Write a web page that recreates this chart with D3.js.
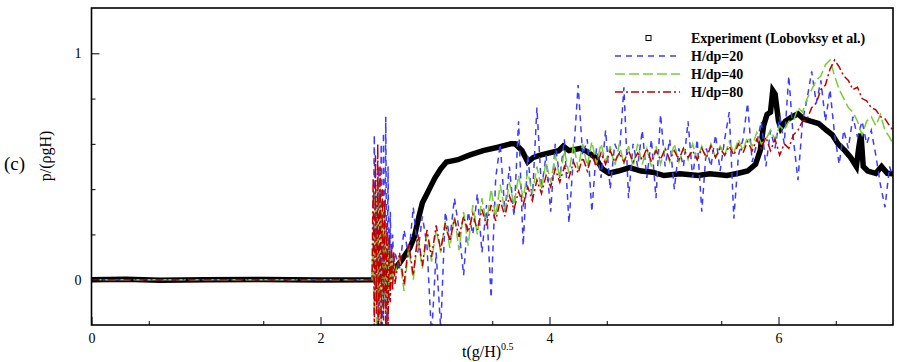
<!DOCTYPE html>
<html><head><meta charset="utf-8">
<script src="https://cdn.jsdelivr.net/npm/d3@7/dist/d3.min.js"></script>
<style>
html,body{margin:0;padding:0;background:#fff;}
svg text{font-family:"Liberation Serif","Times New Roman",serif;}
</style></head>
<body>
<svg id="c" width="897" height="362"></svg>
<script>
// ---------- data ----------
const xTicks = [0, 2, 4, 6];
const yTicks = [0, 1];
const seriesNames = ["Experiment (Lobovksy et al.)", "H/dp=20", "H/dp=40", "H/dp=80"];

// experiment (Lobovsky et al.)
const tExp = [0,0.3,0.6,1.0,1.5,2.0,2.45,2.6,2.7,2.78,2.82,2.86,2.89,2.93,2.96,3.0,3.05,3.1,3.15,3.2,3.3,3.42,3.55,3.66,3.7,3.76,3.81,3.86,3.92,4.0,4.08,4.12,4.17,4.27,4.33,4.4,4.46,4.52,4.6,4.7,4.8,4.9,5.0,5.14,5.3,5.4,5.55,5.65,5.73,5.8,5.84,5.87,5.9,5.93,5.95,5.97,6.0,6.02,6.06,6.12,6.17,6.22,6.28,6.35,6.42,6.47,6.52,6.58,6.63,6.68,6.7,6.72,6.74,6.78,6.85,6.9,6.95,7.0];
const pExp = [0.0,0.002,-0.002,0.0,0.001,-0.001,0.0,0.02,0.08,0.14,0.19,0.28,0.34,0.38,0.41,0.45,0.49,0.52,0.525,0.53,0.55,0.57,0.585,0.60,0.60,0.57,0.52,0.54,0.55,0.56,0.57,0.59,0.57,0.58,0.565,0.54,0.49,0.47,0.48,0.495,0.48,0.475,0.46,0.468,0.46,0.468,0.46,0.47,0.48,0.51,0.57,0.68,0.73,0.74,0.835,0.82,0.70,0.67,0.70,0.72,0.733,0.71,0.70,0.69,0.66,0.64,0.60,0.57,0.54,0.50,0.58,0.645,0.50,0.48,0.47,0.50,0.47,0.468];

// simulations, common time grid
const tSim = [
 0,2.45,
 2.46,2.47,2.48,2.49,2.50,2.51,2.52,2.53,2.54,2.55,
 2.56,2.57,2.58,2.59,2.60,2.61,2.62,2.63,2.64,2.65,
 2.69,2.73,2.77,2.81,2.85,2.89,2.93,2.97,3.01,3.05,
 3.09,3.13,3.17,3.21,3.25,3.29,3.33,3.37,3.41,3.45,
 3.49,3.53,3.57,3.61,3.65,3.69,3.73,3.77,3.81,3.85,
 3.89,3.93,3.97,4.01,4.05,4.09,4.13,4.17,4.21,4.25,
 4.29,4.33,4.37,4.41,4.45,4.49,4.53,4.57,4.61,4.65,
 4.69,4.73,4.77,4.81,4.85,4.89,4.93,4.97,5.01,5.05,
 5.09,5.13,5.17,5.21,5.25,5.29,5.33,5.37,5.41,5.45,
 5.49,5.53,5.57,5.61,5.65,5.69,5.73,5.77,5.81,5.85,
 5.89,5.93,5.97,6.01,6.05,6.09,6.13,6.17,6.21,6.25,
 6.29,6.33,6.37,6.41,6.45,6.49,6.53,6.57,6.61,6.65,
 6.69,6.73,6.77,6.81,6.85,6.89,6.93,6.97,7.00
];
const pDp20 = [
 0,0,
 0.10,0.64,-0.10,0.30,-0.25,0.50,-0.15,0.60,-0.25,0.65,
 -0.10,0.72,-0.25,0.50,-0.10,0.30,0.00,0.20,0.05,0.12,
 0.05,0.22,0.10,0.32,0.12,0.28,0.15,-0.25,0.12,-0.22,
 0.30,0.18,0.36,0.22,0.02,0.30,0.20,0.38,0.12,0.33,
 -0.08,0.45,0.60,0.30,0.50,0.28,0.70,0.15,0.55,0.35,
 0.76,0.40,0.55,0.30,0.60,0.45,0.62,0.25,0.55,0.86,
 0.55,0.62,0.30,0.58,0.45,0.66,0.40,0.60,0.55,0.85,
 0.36,0.60,0.50,0.66,0.45,0.62,0.36,0.73,0.50,0.62,
 0.40,0.58,0.50,0.70,0.45,0.62,0.30,0.58,0.50,0.64,
 0.48,0.62,0.74,0.27,0.55,0.62,0.78,0.52,0.60,0.70,
 0.50,0.66,0.58,0.72,0.60,0.90,0.62,0.44,0.70,0.80,
 0.92,0.78,0.88,0.70,0.84,0.64,0.51,0.66,0.58,0.72,
 0.63,0.70,0.60,0.66,0.55,0.42,0.32,0.50,0.45
];
const pDp40 = [
 0,0,
 0.20,-0.15,0.40,-0.25,0.45,-0.10,0.35,-0.25,0.30,-0.10,
 0.25,-0.15,0.20,-0.05,0.15,-0.05,0.12,0.00,0.10,0.02,
 0.10,-0.05,0.14,0.00,0.18,0.05,0.20,0.08,0.22,0.12,
 0.26,0.14,0.28,0.13,0.30,0.15,0.33,0.20,0.36,0.24,
 0.40,0.28,0.42,0.30,0.43,0.33,0.46,0.36,0.48,0.38,
 0.50,0.40,0.52,0.43,0.55,0.45,0.57,0.47,0.60,0.49,
 0.60,0.50,0.61,0.51,0.60,0.52,0.59,0.50,0.60,0.51,
 0.59,0.50,0.60,0.51,0.58,0.50,0.59,0.51,0.58,0.52,
 0.60,0.52,0.58,0.53,0.60,0.53,0.59,0.54,0.60,0.54,
 0.59,0.55,0.61,0.56,0.62,0.57,0.63,0.59,0.65,0.60,
 0.62,0.66,0.62,0.68,0.66,0.70,0.70,0.76,0.74,0.80,
 0.84,0.88,0.90,0.95,0.97,0.90,0.84,0.80,0.76,0.74,
 0.70,0.64,0.70,0.72,0.68,0.73,0.66,0.63,0.60
];
const pDp80 = [
 0,0,
 0.45,-0.25,0.55,-0.15,0.60,-0.25,0.50,-0.25,0.40,-0.18,
 0.35,-0.25,0.25,-0.22,0.20,-0.10,0.15,-0.05,0.12,-0.02,
 0.12,-0.02,0.16,0.02,0.20,0.06,0.22,0.10,0.24,0.13,
 0.25,0.17,0.27,0.19,0.28,0.21,0.29,0.22,0.31,0.24,
 0.33,0.26,0.35,0.28,0.37,0.31,0.39,0.33,0.41,0.35,
 0.44,0.38,0.46,0.41,0.49,0.43,0.50,0.45,0.52,0.47,
 0.54,0.48,0.55,0.50,0.56,0.51,0.57,0.52,0.56,0.52,
 0.57,0.52,0.56,0.53,0.58,0.52,0.57,0.53,0.58,0.53,
 0.57,0.53,0.58,0.54,0.57,0.53,0.58,0.54,0.59,0.54,
 0.58,0.55,0.59,0.55,0.60,0.56,0.61,0.57,0.62,0.58,
 0.63,0.57,0.62,0.55,0.60,0.58,0.64,0.66,0.70,0.71,
 0.76,0.78,0.84,0.86,0.93,0.97,0.94,0.90,0.88,0.84,
 0.85,0.80,0.79,0.76,0.75,0.72,0.71,0.68,0.66
];

// ---------- drawing ----------
const svg = d3.select("#c");
const L = 91.5, R = 893, T = 8, B = 325;
const x = d3.scaleLinear().domain([0, 7]).range([L, R]);
const y = d3.scaleLinear().domain([-0.2, 1.2]).range([B, T]);

svg.append("defs").append("clipPath").attr("id", "clip")
  .append("rect").attr("x", L).attr("y", T).attr("width", R - L).attr("height", B - T);

const plot = svg.append("g").attr("clip-path", "url(#clip)");
const line = d3.line().x(d => x(d[0])).y(d => y(d[1]));

const styles = [
  {color: "#000000", width: 5, dash: null},
  {color: "#3c3cff", width: 1.5, dash: "6,5"},
  {color: "#78cc38", width: 1.5, dash: "10,4"},
  {color: "#c00000", width: 1.5, dash: "8,3,2,3"}
];

plot.append("path").datum(d3.zip(tExp, pExp)).attr("d", line)
  .attr("fill", "none").attr("stroke", "#000").attr("stroke-width", 5.5)
  .attr("stroke-linejoin", "miter").attr("stroke-linecap", "square");

[pDp20, pDp40, pDp80].forEach((vals, i) => {
  const s = styles[i + 1];
  plot.append("path").datum(d3.zip(tSim, vals)).attr("d", line)
    .attr("fill", "none").attr("stroke", s.color).attr("stroke-width", s.width)
    .attr("stroke-dasharray", s.dash);
});

// axes (ticks inside)
svg.append("g").attr("transform", `translate(0,${B})`)
  .call(d3.axisBottom(x).tickValues(xTicks).tickSize(-8).tickPadding(8).tickFormat(d3.format("d")));
svg.append("g").attr("transform", `translate(0,${B})`)
  .call(d3.axisBottom(x).tickValues(d3.range(0.5, 7, 1)).tickSize(-4).tickFormat(""));
svg.append("g").attr("transform", `translate(${L},0)`)
  .call(d3.axisLeft(y).tickValues(yTicks).tickSize(-8).tickPadding(10).tickFormat(d3.format("d")));
svg.append("g").attr("transform", `translate(${L},0)`)
  .call(d3.axisLeft(y).tickValues([0.2, 0.4, 0.6, 0.8]).tickSize(-4).tickFormat(""));
svg.selectAll(".domain").remove();
svg.selectAll(".tick line").attr("stroke", "#000").attr("stroke-width", 1);
svg.selectAll(".tick text").attr("font-family", "Liberation Serif").attr("font-size", 14).attr("fill", "#000");

svg.append("rect").attr("x", L).attr("y", T).attr("width", R - L).attr("height", B - T)
  .attr("fill", "none").attr("stroke", "#000").attr("stroke-width", 1.6);

// axis titles
const xt = svg.append("text").attr("x", 462).attr("y", 357).attr("font-size", 16).attr("fill", "#000");
xt.append("tspan").text("t(g/H)");
xt.append("tspan").attr("dy", -7).attr("font-size", 10).text("0.5");

svg.append("text").attr("transform", "translate(51,156) rotate(-90)")
  .attr("text-anchor", "middle").attr("font-size", 16).attr("fill", "#000").text("p/(ρgH)");
svg.append("text").attr("x", 4).attr("y", 170).attr("font-size", 19).attr("fill", "#000").text("(c)");

// legend
const legY = [38, 56, 74, 92];
const leg = svg.append("g");
seriesNames.forEach((name, i) => {
  const yy = legY[i];
  if (i === 0) {
    leg.append("rect").attr("x", 646).attr("y", yy - 2.5).attr("width", 5).attr("height", 5)
      .attr("fill", "#fff").attr("stroke", "#000").attr("stroke-width", 1);
  } else {
    const s = styles[i];
    leg.append("line").attr("x1", 615).attr("x2", 680).attr("y1", yy).attr("y2", yy)
      .attr("stroke", s.color).attr("stroke-width", 1.4).attr("stroke-dasharray", s.dash);
  }
  leg.append("text").attr("x", 691).attr("y", yy + 4.5).attr("font-size", 14)
    .attr("font-weight", "bold").attr("fill", "#000").text(name);
});
</script>
</body></html>
